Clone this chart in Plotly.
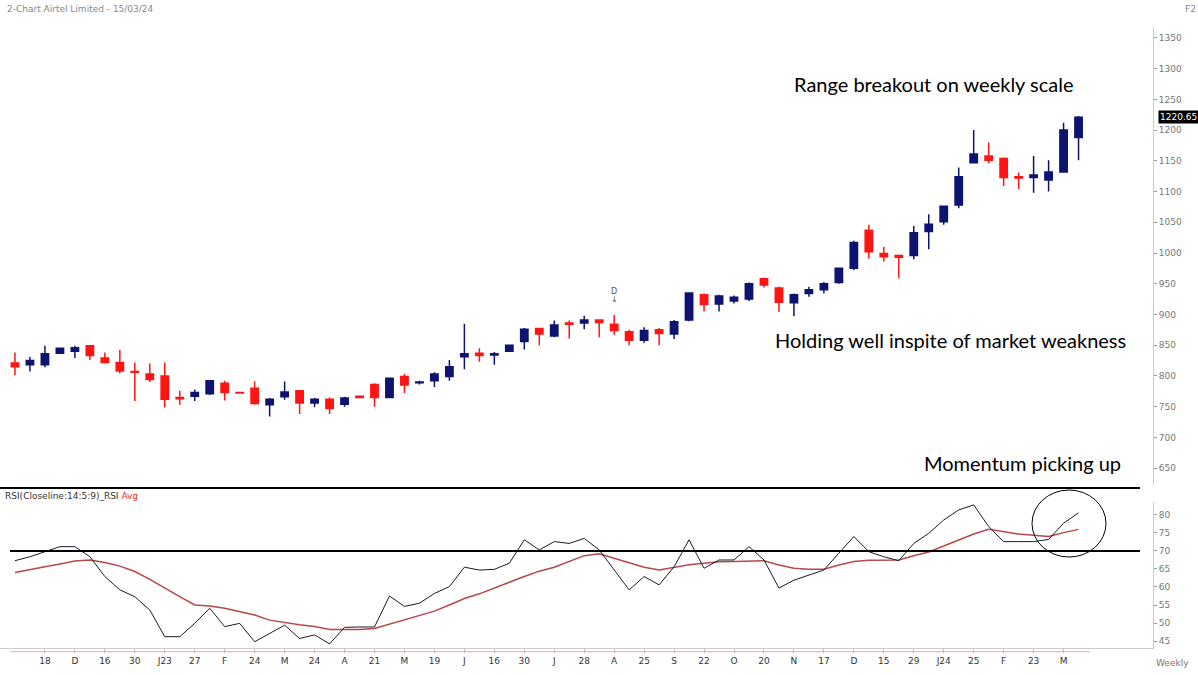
import pandas as pd
import plotly.graph_objects as go

# ---------------- data ----------------
dates = pd.date_range("2022-11-04", periods=72, freq="7D").strftime("%Y-%m-%d").tolist()

opens = [821, 818, 818, 837, 840, 849, 829, 822, 807, 803, 800, 765, 767, 771, 788, 773, 780, 753, 766, 776,
         756, 762, 754, 767, 786, 765, 799, 789, 792, 799, 831, 837, 834, 840, 856, 877, 865, 886, 886, 891,
         884, 872, 858, 875, 868, 891, 932, 917, 922, 925, 958, 943, 919, 934, 940, 952, 975, 1037, 999, 996,
         996, 1035, 1051, 1078, 1147, 1158, 1154, 1124, 1123, 1119, 1132, 1188]
highs = [838, 831, 849, 846, 849, 849, 838, 842, 822, 820, 822, 776, 778, 793, 792, 774, 791, 764, 791, 777,
         764, 765, 766, 768, 788, 797, 803, 792, 806, 826, 885, 845, 839, 851, 878, 878, 890, 890, 898, 892,
         899, 875, 879, 878, 891, 936, 934, 932, 931, 952, 960, 945, 934, 945, 953, 976, 1020, 1046, 1010, 997,
         1044, 1063, 1077, 1139, 1200, 1180, 1156, 1131, 1158, 1151, 1212, 1223]
lows = [801, 807, 814, 836, 829, 826, 820, 804, 759, 790, 749, 753, 759, 769, 760, 771, 753, 734, 761, 738,
        749, 738, 750, 764, 750, 764, 772, 786, 782, 792, 811, 823, 818, 839, 843, 850, 863, 861, 876, 863,
        867, 850, 854, 850, 860, 889, 905, 905, 918, 922, 944, 904, 897, 929, 934, 950, 972, 991, 986, 959,
        990, 1006, 1046, 1073, 1146, 1146, 1109, 1104, 1098, 1100, 1132, 1151]
closes = [815, 825, 836, 845, 846, 833, 822, 808, 806, 794, 762, 763, 773, 792, 773, 772, 755, 762, 774, 756,
          762, 747, 764, 765, 765, 796, 785, 790, 803, 815, 836, 833, 836, 850, 876, 868, 883, 884, 891, 887,
          874, 858, 874, 869, 888, 935, 916, 930, 928, 950, 948, 920, 932, 940, 950, 975, 1017, 1002, 994, 993,
          1033, 1047, 1076, 1124, 1161, 1151, 1123, 1122, 1127, 1132, 1200, 1221]

rsi = [67.3, 68.4, 69.8, 71.2, 71.2, 68.4, 62.9, 59.2, 57.3, 53.6, 46.2, 46.2, 49.9, 54.1, 49.0, 49.9, 44.8, 47.1,
       49.4, 45.7, 46.7, 44.2, 48.8, 48.9, 48.9, 57.5, 54.6, 55.5, 58.2, 60.1, 65.5, 64.7, 64.9, 66.6, 73.1, 70.3,
       72.6, 72.1, 73.5, 70.3, 64.7, 59.2, 62.9, 60.6, 65.6, 73.1, 65.2, 67.5, 67.5, 71.2, 67.5, 59.7, 61.9, 63.3,
       64.7, 69.4, 74.0, 69.8, 68.4, 67.3, 72.1, 74.9, 78.6, 81.4, 82.8, 76.8, 72.6, 72.6, 72.6, 73.2, 77.7, 80.6]
rsi_avg = [64.0, 64.7, 65.6, 66.4, 67.2, 67.5, 66.8, 65.8, 64.3, 62.1, 59.6, 57.3, 55.0, 54.7, 54.1, 53.1, 52.2,
           50.8, 50.1, 49.5, 49.0, 48.2, 48.2, 48.2, 48.5, 49.7, 50.8, 51.9, 53.3, 55.0, 56.8, 58.1, 59.6, 61.3,
           62.9, 64.4, 65.5, 67.2, 68.7, 69.2, 68.0, 66.6, 65.5, 64.7, 65.5, 66.2, 66.6, 67.0, 67.1, 67.2, 67.3,
           66.1, 65.2, 64.9, 64.9, 66.1, 67.1, 67.4, 67.5, 67.5, 68.7, 69.7, 71.4, 73.1, 74.7, 76.0, 75.3, 74.7,
           74.4, 74.0, 75.1, 76.0]

tick_labels = ["18", "D", "16", "30", "J23", "27", "F", "24", "M", "24", "A", "21", "M", "19", "J", "16", "30",
               "J", "28", "A", "25", "S", "22", "O", "20", "N", "17", "D", "15", "29", "J24", "25", "F", "23", "M"]
price_ticks = [650, 700, 750, 800, 850, 900, 950, 1000, 1050, 1100, 1150, 1200, 1250, 1300, 1350]
rsi_ticks = [45, 50, 55, 60, 65, 70, 75, 80]

NAVY = "#0d1470"
RED = "#ff1414"

fig = go.Figure()
fig.add_trace(go.Candlestick(
    x=dates, open=opens, high=highs, low=lows, close=closes,
    increasing=dict(line=dict(color=NAVY, width=1.5), fillcolor=NAVY),
    decreasing=dict(line=dict(color=RED, width=1.5), fillcolor=RED),
    whiskerwidth=0, showlegend=False, xaxis="x", yaxis="y",
))
fig.add_trace(go.Scatter(x=dates, y=rsi_avg, mode="lines", line=dict(color="#b8474a", width=1.5),
                         showlegend=False, xaxis="x", yaxis="y2"))
fig.add_trace(go.Scatter(x=dates, y=rsi, mode="lines", line=dict(color="#1a1a2a", width=1),
                         showlegend=False, xaxis="x", yaxis="y2"))

TICKFONT = dict(family="DejaVu Sans", size=9, color="#777")
fig.update_layout(
    width=1198, height=675,
    margin=dict(l=0, r=45, t=27, b=27),
    paper_bgcolor="white", plot_bgcolor="white",
    xaxis=dict(type="category", range=[-1.0, 75.97], rangeslider=dict(visible=False),
               tickvals=dates[2::2], ticktext=tick_labels, ticks="outside", ticklen=4,
               tickcolor="#bbb", showline=True, linecolor="#ccc", linewidth=1,
               showgrid=False, zeroline=False, tickfont=dict(family="DejaVu Sans", size=9, color="#333"),
               anchor="y2"),
    yaxis=dict(domain=[0.262, 1], range=[621.97, 1367.8], side="right", showgrid=False, zeroline=False,
               tickvals=price_ticks, ticks="outside", ticklen=3, tickcolor="#999", showline=True,
               linecolor="#ccc", tickfont=TICKFONT),
    yaxis2=dict(domain=[0, 0.2351], range=[43.06, 83.6], side="right", showgrid=False, zeroline=False,
                tickvals=rsi_ticks, ticks="outside", ticklen=3, tickcolor="#999", showline=True,
                linecolor="#ccc", tickfont=TICKFONT),
    boxgap=0.3,
)

# separator line and RSI 70 level
fig.add_shape(type="line", xref="paper", yref="paper", x0=0, x1=1140 / 1153, y0=0.2577, y1=0.2577,
              line=dict(color="black", width=2))
fig.add_shape(type="line", xref="paper", yref="y2", x0=10 / 1153, x1=1140 / 1153, y0=70, y1=70,
              line=dict(color="black", width=2))
fig.add_shape(type="line", xref="paper", yref="paper", x0=10 / 1153, x1=1090 / 1153, y0=-0.006, y1=-0.006,
              line=dict(color="#f3a5a5", width=1))
# circle
fig.add_shape(type="circle", xref="paper", yref="paper", x0=1032 / 1153, x1=1106 / 1153,
              y0=0.1465, y1=0.2544, line=dict(color="black", width=1))


def px_ann(px, py, text, font, xanchor="center", **kw):
    fig.add_annotation(xref="paper", yref="paper", x=px / 1153, y=(648 - py) / 621, text=text,
                       showarrow=False, font=font, xanchor=xanchor, yanchor="middle", **kw)


ANN_FONT = dict(family="Lato", size=20, color="black")
px_ann(934, 84, "Range breakout on weekly scale", ANN_FONT)
px_ann(950, 340, "Holding well inspite of market weakness", ANN_FONT)
px_ann(1022, 463, "Momentum picking up", ANN_FONT)

SMALL = dict(family="DejaVu Sans", size=9, color="#888")
px_ann(5, 9, "2-Chart Airtel Limited - 15/03/24", SMALL, xanchor="left")
px_ann(1190, 9, "F2", SMALL)
px_ann(3, 496, "RSI(Closeline:14:5:9)_RSI <span style='color:#e03030'>Avg</span>",
       dict(family="DejaVu Sans", size=9, color="#333"), xanchor="left")
px_ann(1172, 663, "Weekly", dict(family="DejaVu Sans", size=9, color="#777"))

fig.add_annotation(xref="paper", yref="y", x=1158 / 1153, y=closes[-1], xanchor="left", yanchor="middle",
                   text="1220.65", showarrow=False, bgcolor="black", borderpad=1,
                   font=dict(family="DejaVu Sans", size=9, color="white"))
fig.add_annotation(xref="x", yref="y", x=dates[40], y=highs[40] + 39, text="D", showarrow=False,
                   yanchor="middle", font=dict(family="DejaVu Sans", size=8, color="#555"))
fig.add_annotation(xref="x", yref="y", x=dates[40], y=highs[40] + 25, text="↓", showarrow=False,
                   yanchor="middle", font=dict(family="DejaVu Sans", size=8, color="#555"))

fig.write_html("out.html")
